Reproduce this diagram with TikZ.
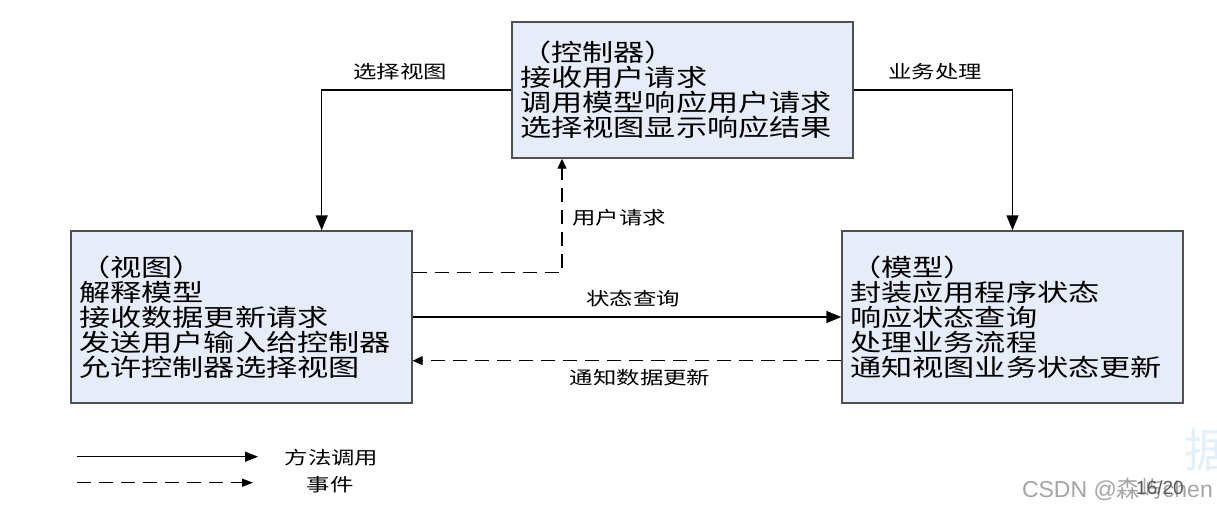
\documentclass[tikz,border=0pt]{standalone}
\usepackage{fontspec}
\setmainfont{Liberation Sans}
\newfontfamily\cjk[FakeStretch=1.3]{Noto Sans CJK SC}
\newfontfamily\cjkplain{Noto Sans CJK SC}
\usetikzlibrary{arrows.meta,calc}
\definecolor{boxfill}{RGB}{230,237,248}
\definecolor{boxline}{RGB}{80,80,80}
\definecolor{wmgray}{RGB}{165,165,165}
\definecolor{wmblue}{RGB}{226,240,251}
\begin{document}
\begin{tikzpicture}[x=1pt,y=-1pt,
  mvcbox/.style={draw=boxline,line width=1.4pt,fill=boxfill,rectangle,
    inner xsep=8pt,inner ysep=0pt,text width=325pt,align=left,
    minimum width=341pt,font=\cjk\fontsize{24}{25}\selectfont},
  lbl/.style={inner sep=0pt,font=\cjk\fontsize{18}{20}\selectfont},
  solidarrow/.style={line width=1.4pt,-{Triangle[length=15pt,width=12pt]}},
  dasharrow/.style={line width=1.4pt,dash pattern=on 14pt off 8pt,-{Triangle[length=10pt,width=9pt]}}
]
\useasboundingbox (0,0) rectangle (1217,508);
\fill[white] (0,0) rectangle (1217,508);

% boxes
\node[mvcbox,minimum height=136pt] (ctrl) at (682.5,90)
  {（控制器）\\接收用户请求\\调用模型响应用户请求\\选择视图显示响应结果};
\node[mvcbox,minimum height=172pt] (view) at (241.5,317)
  {（视图）\\解释模型\\接收数据更新请求\\发送用户输入给控制器\\允许控制器选择视图};
\node[mvcbox,minimum height=172pt] (model) at (1012.5,317)
  {（模型）\\封装应用程序状态\\响应状态查询\\处理业务流程\\通知视图业务状态更新};

% connectors
\draw[solidarrow] (ctrl.west) -| ([xshift=80.2]view.north);
\draw[solidarrow] (ctrl.east) -| (model.north);
\draw[dasharrow] ([yshift=44.3]view.east) -| ([xshift=-120.5]ctrl.south);
\draw[solidarrow] (view.east) -- (model.west);
\draw[dasharrow] ([yshift=-43.7]model.west) -- ([yshift=-43.7]view.east);

% labels
\node[lbl] (lsel) at (400,72) {选择视图};
\node[lbl] (lbiz) at (935,72) {业务处理};
\node[lbl] (lreq) at (619,218) {用户请求};
\node[lbl] (lqry) at (633,299) {状态查询};
\node[lbl] (lnot) at (640,378) {通知数据更新};

% legend
\coordinate (l1s) at (77,456.7);
\coordinate (l1e) at (258,456.7);
\coordinate (l2s) at (77,482.7);
\coordinate (l2e) at (253,482.7);
\draw[line width=1.4pt,-{Triangle[length=13pt,width=10pt]}] (l1s) -- (l1e);
\draw[line width=1.4pt,dash pattern=on 14pt off 8pt,-{Triangle[length=11pt,width=8pt]}] (l2s) -- (l2e);
\node[lbl] (lmeth) at (331.5,458) {方法调用};
\node[lbl] (levt) at (330,485) {事件};

% watermark
\node[inner sep=0pt,anchor=west,text=wmblue,font=\cjkplain\fontsize{46}{46}\selectfont] (wm2) at (1184,450) {据};
\node[inner sep=0pt,anchor=east,text=wmgray,font=\fontsize{23}{23}\selectfont] (wm) at (1213,489) {CSDN @{\cjkplain 森屿}chen};
\node[inner sep=0pt,text={rgb,255:red,90;green,90;blue,90},font=\fontsize{19}{19}\selectfont] (pg) at (1160,488) {16/20};
\end{tikzpicture}
\end{document}
